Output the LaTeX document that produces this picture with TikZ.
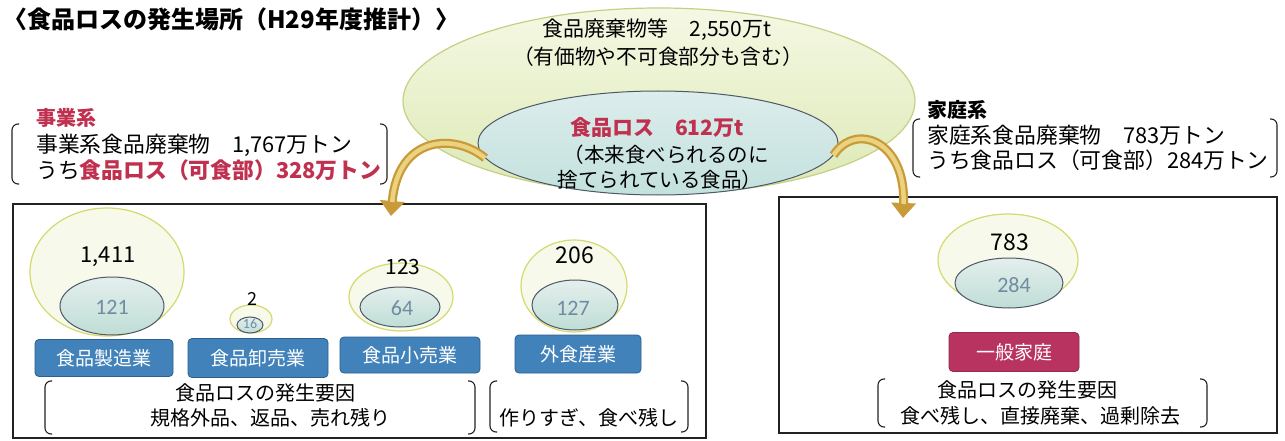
\documentclass[tikz,border=0pt]{standalone}
\usepackage{fontspec}
\setmainfont{Noto Sans CJK JP}
\newfontfamily\numfont{Carlito}
\usetikzlibrary{shapes.geometric,arrows.meta}
\definecolor{ochre}{HTML}{C99A3A}
\definecolor{ochrelight}{HTML}{EBD27E}
\definecolor{lossred}{HTML}{C0304F}
\definecolor{boxblue}{HTML}{4282BA}
\definecolor{boxblueedge}{HTML}{2C5F8E}
\definecolor{crimson}{HTML}{B83360}
\definecolor{outeredge}{HTML}{D4DA6E}
\definecolor{outerfill}{HTML}{F7F9EA}
\definecolor{inneredge}{HTML}{4F5866}
\definecolor{innertop}{HTML}{E4EFED}
\definecolor{innerbot}{HTML}{BFDDD6}
\definecolor{innernum}{HTML}{6F8CA3}
\definecolor{bigtop}{HTML}{F5F8E4}
\definecolor{bigbot}{HTML}{DCE9B4}
\definecolor{bigedge}{HTML}{C6CF84}
\definecolor{losstop}{HTML}{DCEDEC}
\definecolor{lossbot}{HTML}{C3E1DD}
\definecolor{frameline}{HTML}{222222}
\tikzset{
  txt/.style={font=\fontsize{20}{20}\selectfont, inner sep=0pt},
  bigtxt/.style={font=\fontsize{21.8}{22}\selectfont, inner sep=0pt},
  outerc/.style={ellipse, draw=outeredge, line width=1.2pt, fill=outerfill, inner sep=0pt},
  innerc/.style={ellipse, draw=inneredge, line width=1pt, top color=innertop, bottom color=innerbot, inner sep=0pt},
  catbox/.style={rounded corners=4pt, fill=boxblue, draw=boxblueedge, line width=0.8pt, text=white,
     font=\fontsize{19}{19}\selectfont, inner sep=0pt},
  bignum/.style={font=\fontsize{22}{22}\selectfont, inner sep=0pt},
  smallnum/.style={font=\numfont\fontsize{22}{22}\selectfont, text=innernum, inner sep=0pt},
  frame/.style={draw=frameline, line width=1.5pt, inner sep=0pt},
  brk/.style={draw=frameline, line width=1.1pt, rounded corners=6pt},
  arrowout/.style={draw=ochre, line width=9pt, -{Triangle[length=15pt,width=24pt]}},
  arrowin/.style={draw=ochrelight, line width=4.5pt, shorten >=14pt},
}
\begin{document}
\begin{tikzpicture}[x=1pt,y=-1pt]
\useasboundingbox (0,0) rectangle (1285,441);
\fill[white] (0,0) rectangle (1285,441);

% title
\node[anchor=west, font=\bfseries\fontsize{24}{24}\selectfont, inner sep=0pt] (title) at (3,19) {〈食品ロスの発生場所（H29年度推計）〉};

% big ellipses
\node[ellipse, minimum width=512, minimum height=186, draw=bigedge, line width=1.2pt, top color=bigtop, bottom color=bigbot, inner sep=0pt] (waste) at (659,101) {};
\node[txt, font=\fontsize{21}{21}\selectfont] (wt1) at (657,30) {食品廃棄物等\quad 2,550万t};
\node[txt, font=\fontsize{20.7}{21}\selectfont] (wt2) at (658,57) {（有価物や不可食部分も含む）};
\node[ellipse, minimum width=360, minimum height=104, draw=inneredge, line width=1pt, top color=losstop, bottom color=lossbot, inner sep=0pt] (loss) at (658,143) {};
\node[txt, font=\bfseries\fontsize{21}{21}\selectfont, text=lossred] (lt1) at (657,127) {食品ロス\quad 612万t};
\node[txt, font=\fontsize{20.5}{21}\selectfont] (lt2) at (666,155) {（本来食べられるのに};
\node[txt, font=\fontsize{20.5}{21}\selectfont] (lt3) at (660,180) {捨てられている食品）};

% business text
\node[txt, anchor=west, font=\bfseries\fontsize{20}{20}\selectfont, text=lossred] (biz) at (36,118) {事業系};
\node[bigtxt, anchor=west] (biz1) at (36,145) {事業系食品廃棄物\quad 1,767万トン};
\node[bigtxt, anchor=west] (biz2) at (36,170) {うち{\bfseries\color{lossred}食品ロス（可食部）328万トン}};
\draw[brk] (19,124) -- (12,124) -- (12,184) -- (19,184);
\draw[brk] (380,124) -- (387,124) -- (387,184) -- (380,184);

% household text
\node[txt, anchor=west, font=\bfseries\fontsize{20}{20}\selectfont] (home) at (927,110) {家庭系};
\node[bigtxt, anchor=west] (home1) at (927,135) {家庭系食品廃棄物\quad 783万トン};
\node[bigtxt, anchor=west] (home2) at (927,160) {うち食品ロス（可食部）284万トン};
\draw[brk] (920,119) -- (913,119) -- (913,177) -- (920,177);
\draw[brk] (1270,119) -- (1277,119) -- (1277,177) -- (1270,177);

% frames
\node[frame, minimum width=693, minimum height=234, anchor=north west] (bizframe) at (12,203) {};
\node[frame, minimum width=498, minimum height=236, anchor=north west] (homeframe) at (778,196) {};

% arrows
\coordinate (la) at (391,216);
\coordinate (ra) at (903,218);
\draw[arrowout] (loss.185) .. controls (455,133) and (398,135) .. (la);
\draw[arrowin] (loss.185) .. controls (455,133) and (398,135) .. (la);
\draw[arrowout] (loss.356) .. controls (855,122) and (906,140) .. (ra);
\draw[arrowin] (loss.356) .. controls (855,122) and (906,140) .. (ra);

% business circles
\node[outerc, minimum width=154, minimum height=128] (c1) at (107,272) {};
\node[innerc, minimum width=104, minimum height=58] (l1) at (112,306) {};
\node[bignum] (n1) at (108,257) {1,411};
\node[smallnum] (m1) at (112,307) {121};
\node[catbox, minimum width=138, minimum height=37] (b1) at (104,358) {食品製造業};

\node[outerc, minimum width=42, minimum height=28] (c2) at (251,319) {};
\node[innerc, minimum width=26, minimum height=16] (l2) at (250,325) {};
\node[bignum, font=\fontsize{18}{18}\selectfont] (n2) at (252,299) {2};
\node[smallnum, font=\numfont\fontsize{14}{14}\selectfont] (m2) at (250,324) {16};
\node[catbox, minimum width=140, minimum height=39] (b2) at (258,358) {食品卸売業};

\node[outerc, minimum width=104, minimum height=68] (c3) at (401,297) {};
\node[innerc, minimum width=80, minimum height=40] (l3) at (400,307) {};
\node[bignum, font=\fontsize{21}{21}\selectfont] (n3) at (403,267) {123};
\node[smallnum] (m3) at (402,308) {64};
\node[catbox, minimum width=140, minimum height=36] (b3) at (410,355) {食品小売業};

\node[outerc, minimum width=106, minimum height=92] (c4) at (574,286) {};
\node[innerc, minimum width=86, minimum height=50] (l4) at (575,305) {};
\node[bignum, font=\fontsize{23}{23}\selectfont] (n4) at (575,255) {206};
\node[smallnum] (m4) at (573,308) {127};
\node[catbox, minimum width=126, minimum height=38] (b4) at (578,354) {外食産業};

% business causes
\draw[brk] (52,381) -- (45,381) -- (45,434) -- (52,434);
\draw[brk] (468,381) -- (475,381) -- (475,434) -- (468,434);
\node[txt] (bc1) at (265,393) {食品ロスの発生要因};
\node[txt] (bc2) at (270,418) {規格外品、返品、売れ残り};
\draw[brk] (497,381) -- (490,381) -- (490,432) -- (497,432);
\draw[brk] (681,381) -- (688,381) -- (688,432) -- (681,432);
\node[txt] (bc3) at (589,418) {作りすぎ、食べ残し};

% household circle
\node[outerc, minimum width=140, minimum height=92] (c5) at (1008,260) {};
\node[innerc, minimum width=108, minimum height=50] (l5) at (1009,283) {};
\node[bignum, font=\fontsize{23}{23}\selectfont] (n5) at (1010,242) {783};
\node[smallnum] (m5) at (1014,285) {284};
\node[catbox, fill=crimson, draw=crimson!80!black, minimum width=130, minimum height=39] (b5) at (1014,352) {一般家庭};
\draw[brk] (885,379) -- (878,379) -- (878,427) -- (885,427);
\draw[brk] (1200,379) -- (1207,379) -- (1207,427) -- (1200,427);
\node[txt] (hc1) at (1027,390) {食品ロスの発生要因};
\node[txt] (hc2) at (1040,416) {食べ残し、直接廃棄、過剰除去};
\end{tikzpicture}
\end{document}
